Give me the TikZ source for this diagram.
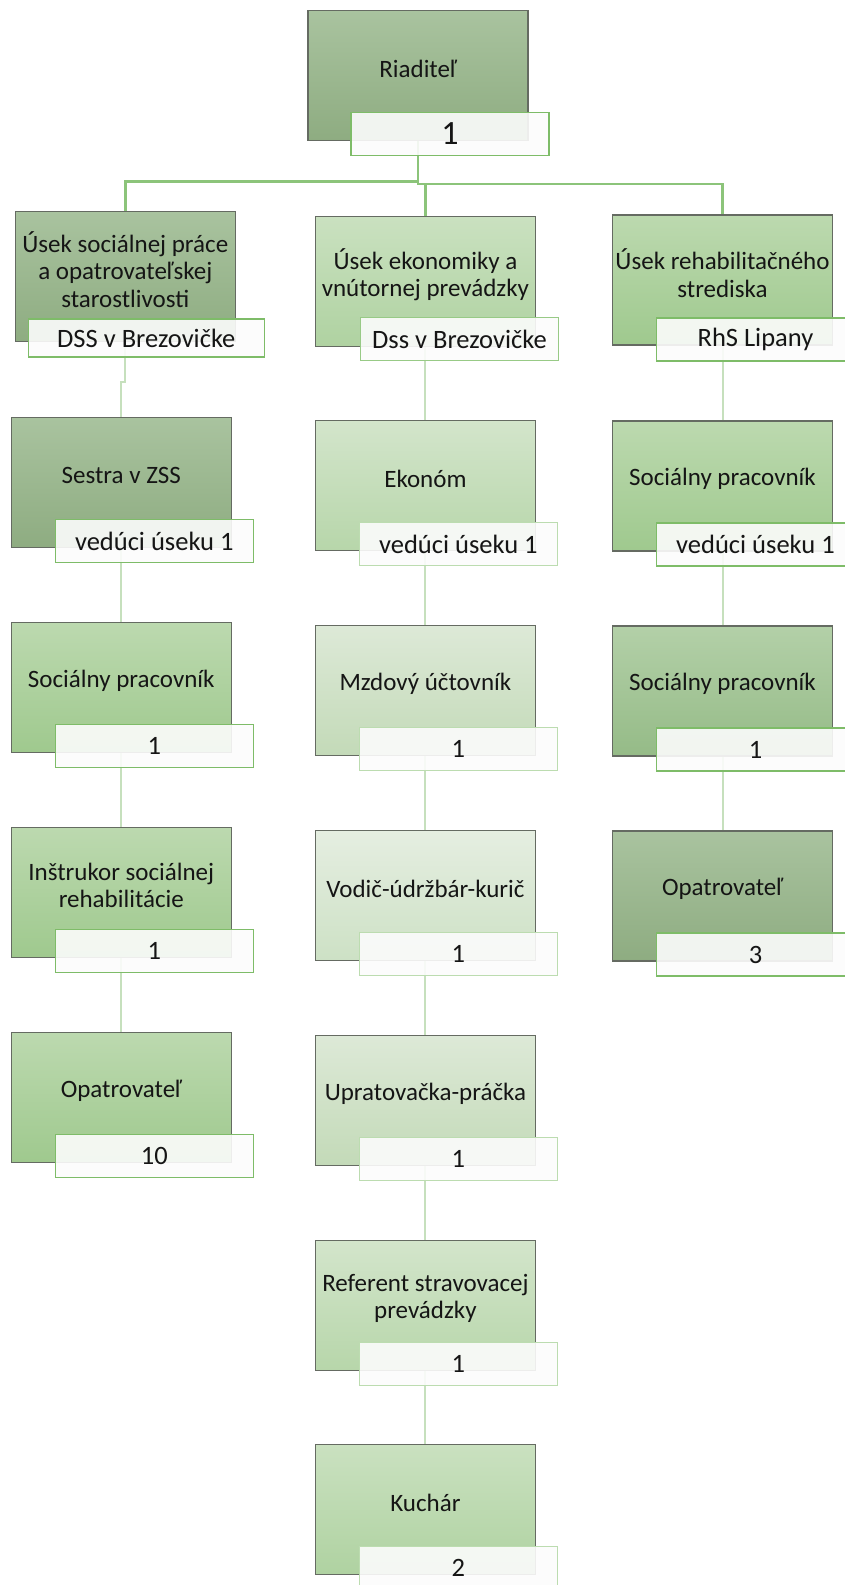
\documentclass[tikz,border=0pt]{standalone}
\usepackage{fontspec}
\setmainfont{Carlito}
\usetikzlibrary{positioning,backgrounds}

\definecolor{boxline}{HTML}{656B62}
\definecolor{inkgray}{HTML}{151515}
\definecolor{linkgreen}{HTML}{8CC47A}
\definecolor{sublinkgreen}{HTML}{C6E0BD}
\definecolor{countstrong}{HTML}{7EBC68}
\definecolor{countmedium}{HTML}{98CA86}
\definecolor{countlight}{HTML}{BCDCB0}
% shading tones, top and bottom
\definecolor{darktop}{HTML}{A9C39F}    \definecolor{darkbot}{HTML}{8EAC81}
\definecolor{middarktop}{HTML}{B3D0A8} \definecolor{middarkbot}{HTML}{95BB87}
\definecolor{midtop}{HTML}{BCD9AF}     \definecolor{midbot}{HTML}{9FC98E}
\definecolor{lighttop}{HTML}{CAE1C0}   \definecolor{lightbot}{HTML}{AFD2A1}
\definecolor{softtop}{HTML}{D3E5CB}    \definecolor{softbot}{HTML}{B7D6AA}
\definecolor{paletop}{HTML}{DDE9D7}    \definecolor{palebot}{HTML}{C3DAB8}
\definecolor{palertop}{HTML}{E5EEE1}   \definecolor{palerbot}{HTML}{CDE1C5}

\begin{document}
\begin{tikzpicture}[
      x=1pt, y=1pt,
      node distance=75pt,
      post/.style={
        rectangle,
        draw=boxline,
        line width=1.1pt,
        top color=#1top,
        bottom color=#1bot,
        minimum width=220pt,
        minimum height=130pt,
        inner sep=0pt,
        outer sep=0pt
      },
      post/.default=mid,
      posttext/.style={
        font=\fontsize{25pt}{27.5pt}\selectfont,
        text=inkgray,
        align=center,
        yshift=7pt
      },
      count/.style={
        rectangle,
        draw=#1,
        line width=1.4pt,
        fill=white!99!black,
        fill opacity=0.9,
        text opacity=1,
        text=inkgray,
        font=\fontsize{26.5pt}{29pt}\selectfont,
        minimum width=198pt,
        minimum height=43pt,
        inner sep=0pt,
        outer sep=0pt,
        anchor=north west
      },
      count/.default=countstrong,
      link/.style={draw=linkgreen, line width=2.5pt},
      sublink/.style={draw=sublinkgreen, line width=2pt}
    ]

      \useasboundingbox (0,0) rectangle (845,-1585);

      % top
      \node[post=dark, label={[posttext]center:Riaditeľ}] (riad) at (418,-75.5) {};
      \node[count, font=\fontsize{34pt}{36pt}\selectfont] (riadn) at ([shift={(43,28)}]riad.south west) {1};

      % sections
      \node[post=dark, label={[posttext]center:{Úsek sociálnej práce\\a opatrovateľskej\\starostlivosti}}] (soc) at (125.3,-276.5) {};
      \node[count, minimum width=236pt, minimum height=38pt] (socn) at ([shift={(13,22.5)}]soc.south west) {DSS v Brezovičke};
      \node[post=light, label={[posttext]center:{Úsek ekonomiky a\\vnútornej prevádzky}}] (eko) at (425.4,-281.5) {};
      \node[count=countmedium] (ekon) at ([shift={(45,29)}]eko.south west) {Dss v Brezovičke};
      \node[post=mid, label={[posttext]center:{Úsek rehabilitačného\\strediska}}] (reh) at (722.5,-280) {};
      \node[count] (rehn) at ([shift={(44,27)}]reh.south west) {RhS Lipany};

      % left column
      \node[post=dark, below=76pt of soc, xshift=-4pt, label={[posttext]center:Sestra v ZSS}] (sestra) {};
      \node[count] (sestran) at ([shift={(44,28)}]sestra.south west) {vedúci úseku 1};
      \node[post=mid, below=of sestra, label={[posttext]center:Sociálny pracovník}] (socpracA) {};
      \node[count] (socpracAn) at ([shift={(44,28)}]socpracA.south west) {1};
      \node[post=mid, below=of socpracA, label={[posttext]center:{Inštrukor sociálnej\\rehabilitácie}}] (instr) {};
      \node[count] (instrn) at ([shift={(44,28)}]instr.south west) {1};
      \node[post=mid, below=of instr, label={[posttext]center:Opatrovateľ}] (opatA) {};
      \node[count] (opatAn) at ([shift={(44,28)}]opatA.south west) {10};

      % middle column
      \node[post=soft, below=74pt of eko, label={[posttext]center:Ekonóm}] (ekonom) {};
      \node[count=countlight] (ekonomn) at ([shift={(44,28)}]ekonom.south west) {vedúci úseku 1};
      \node[post=pale, below=of ekonom, label={[posttext]center:Mzdový účtovník}] (mzdy) {};
      \node[count=countlight] (mzdyn) at ([shift={(44,28)}]mzdy.south west) {1};
      \node[post=paler, below=of mzdy, label={[posttext]center:Vodič-údržbár-kurič}] (vodic) {};
      \node[count=countlight] (vodicn) at ([shift={(44,28)}]vodic.south west) {1};
      \node[post=pale, below=of vodic, label={[posttext]center:Upratovačka-práčka}] (uprat) {};
      \node[count=countlight] (upratn) at ([shift={(44,28)}]uprat.south west) {1};
      \node[post=soft, below=of uprat, label={[posttext]center:{Referent stravovacej\\prevádzky}}] (ref) {};
      \node[count=countlight] (refn) at ([shift={(44,28)}]ref.south west) {1};
      \node[post=light, below=74pt of ref, label={[posttext]center:Kuchár}] (kuchar) {};
      \node[count=countlight] (kucharn) at ([shift={(44,28)}]kuchar.south west) {2};

      % right column
      \node[post=mid, below=76pt of reh, label={[posttext]center:Sociálny pracovník}] (socpracB) {};
      \node[count] (socpracBn) at ([shift={(44,28)}]socpracB.south west) {vedúci úseku 1};
      \node[post=middark, below=of socpracB, label={[posttext]center:Sociálny pracovník}] (socpracC) {};
      \node[count] (socpracCn) at ([shift={(44,28)}]socpracC.south west) {1};
      \node[post=dark, below=of socpracC, label={[posttext]center:Opatrovateľ}] (opatC) {};
      \node[count] (opatCn) at ([shift={(44,28)}]opatC.south west) {3};

      \begin{scope}[on background layer]
        \fill[white] (0,0) rectangle (845,-1585);
        \draw[link] (riad.south) -- ++(0,-41) -| (soc.north);
        \draw[link] (riad.south) -- ++(0,-43.5) -| (eko.north);
        \draw[link] (riad.south) -- ++(0,-43.5) -| (reh.north);

        \draw[sublink] (soc.south) -- ++(0,-40) -| (sestra.north);
        \draw[sublink] (sestra) -- (socpracA);
        \draw[sublink] (socpracA) -- (instr);
        \draw[sublink] (instr) -- (opatA);

        \draw[sublink] (eko) -- (ekonom);
        \draw[sublink] (ekonom) -- (mzdy);
        \draw[sublink] (mzdy) -- (vodic);
        \draw[sublink] (vodic) -- (uprat);
        \draw[sublink] (uprat) -- (ref);
        \draw[sublink] (ref) -- (kuchar);

        \draw[sublink] (reh) -- (socpracB);
        \draw[sublink] (socpracB) -- (socpracC);
        \draw[sublink] (socpracC) -- (opatC);
      \end{scope}
    \end{tikzpicture}
\end{document}
